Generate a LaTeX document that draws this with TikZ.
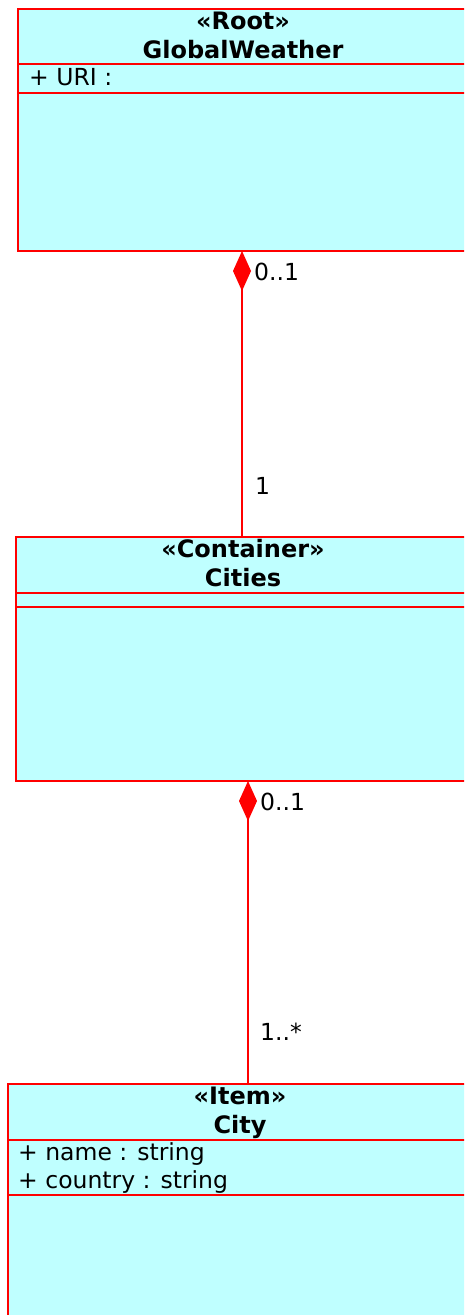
\documentclass[tikz,border=0pt]{standalone}
\usepackage{fontspec}
\setmainfont{DejaVu Sans}
\usetikzlibrary{arrows.meta}
\definecolor{classfill}{RGB}{191,255,255}
\tikzset{
  umlclass/.style={draw=red, fill=classfill, line width=1.5pt, rectangle,
    anchor=north west, outer sep=0pt, inner sep=0pt},
  compline/.style={draw=red, line width=1.5pt},
  title/.style={anchor=base, align=center, font=\fontsize{24}{29}\selectfont\bfseries},
  attr/.style={anchor=base west, inner sep=0pt},
  mult/.style={anchor=base west, inner sep=0pt},
  composition/.style={red, line width=1.5pt, {Diamond[length=40pt,width=18pt]}-}
}
\begin{document}
\begin{tikzpicture}[x=1pt, y=-1pt, every node/.style={font=\fontsize{23.5}{28.5}\selectfont}]
    \useasboundingbox (0,0) rectangle (464,1315);
    \clip (0,0) rectangle (464,1315);
    % classes
    \node[umlclass, minimum width=448pt, minimum height=242pt] (root) at (18,9) {};
    \node[umlclass, minimum width=452pt, minimum height=244pt] (cities) at (16,537) {};
    \node[umlclass, minimum width=480pt, minimum height=260pt] (city) at (8,1084) {};
    % compartments
    \foreach \cls/\y in {root/64, root/93, cities/593, cities/607, city/1140, city/1195} {
      \draw[compline] (\cls.west |- 0,\y) -- (\cls.east |- 0,\y);
    }
    % titles (base = last line)
    \node[title] (roottitle) at (243,58) {«Root»\\GlobalWeather};
    \node[title] (citiestitle) at (243,586) {«Container»\\Cities};
    \node[title] (citytitle) at (240,1133) {«Item»\\City};
    % attributes
    \node[attr] (uri) at (29,85) {+ URI :};
    \node[attr] (name) at (18,1160) {+ name : string};
    \node[attr] (country) at (18,1188) {+ country : string};
    % associations
    \draw[composition] (root.south) -- (cities.north);
    \draw[composition] (city.north |- cities.south) -- (city.north);
    \node[mult] (rootmult) at (254,280) {0..1};
    \node[mult] (citiesmult) at (255,494) {1};
    \node[mult] (ownermult) at (260,810) {0..1};
    \node[mult] (itemmult) at (260,1040) {1..*};
  \end{tikzpicture}
\end{document}
